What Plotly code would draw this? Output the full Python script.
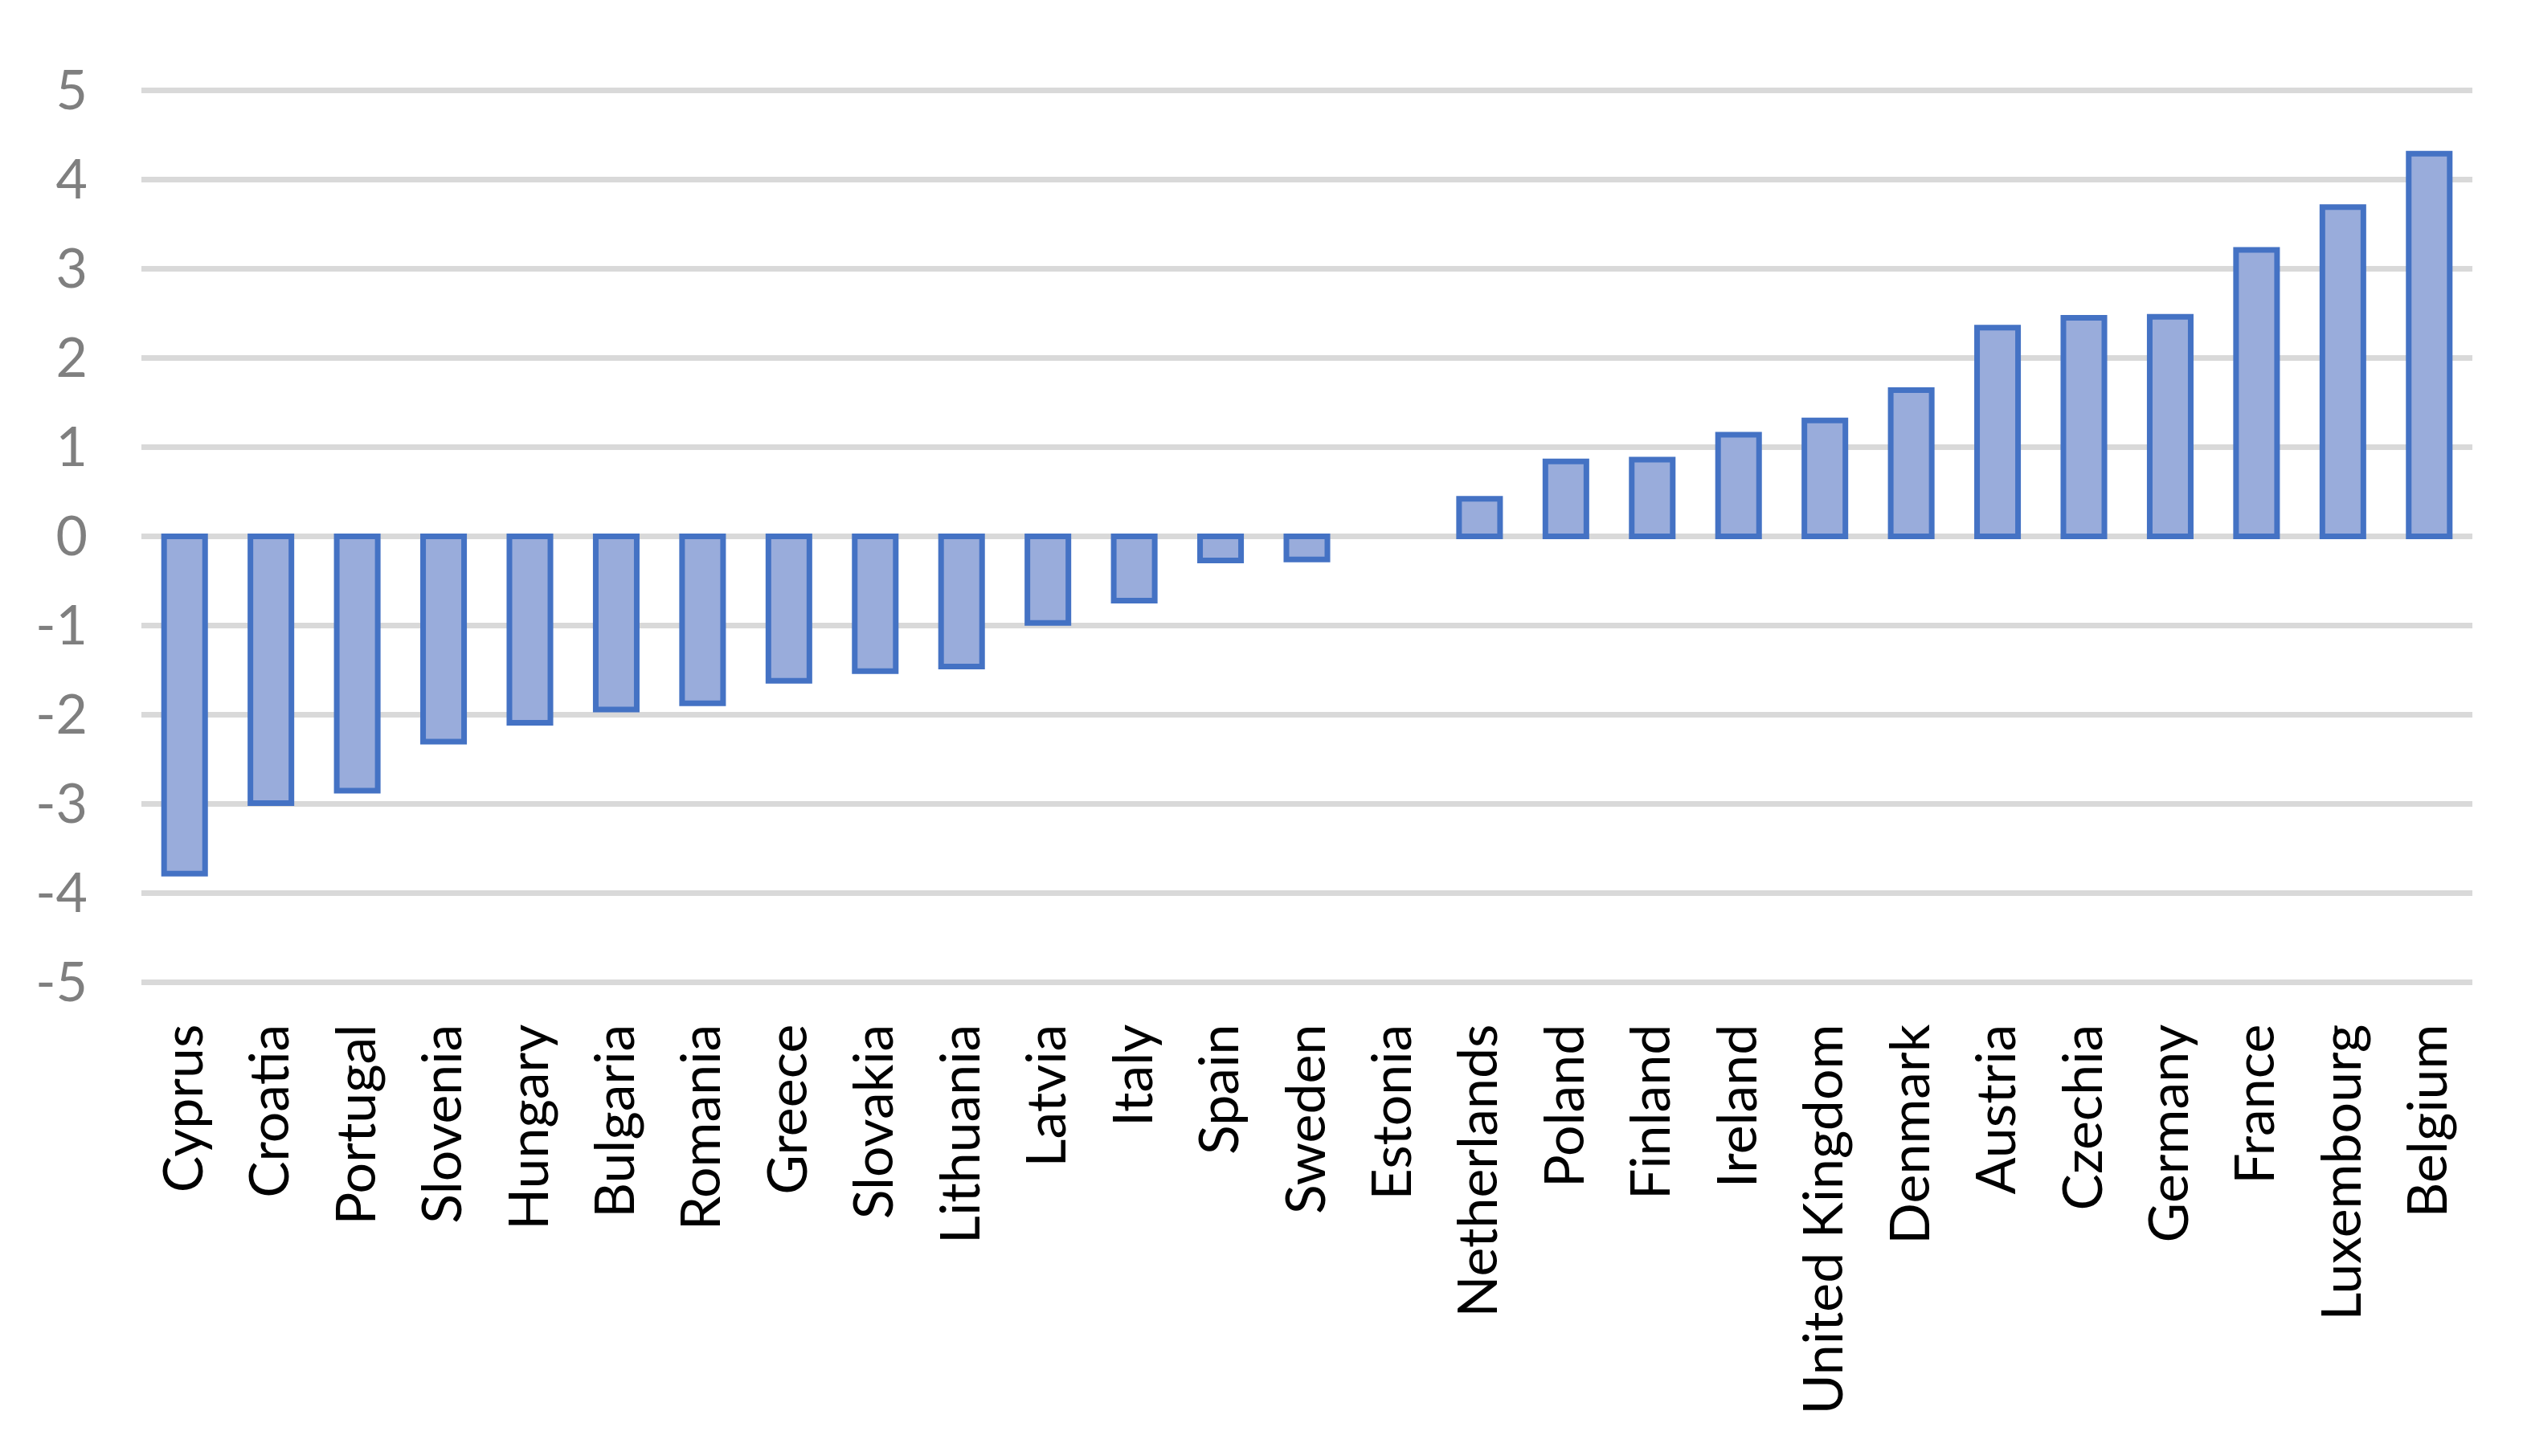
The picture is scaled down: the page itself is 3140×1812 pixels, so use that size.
import plotly.graph_objects as go

countries = ["Cyprus", "Croatia", "Portugal", "Slovenia", "Hungary", "Bulgaria", "Romania",
             "Greece", "Slovakia", "Lithuania", "Latvia", "Italy", "Spain", "Sweden", "Estonia",
             "Netherlands", "Poland", "Finland", "Ireland", "United Kingdom", "Denmark",
             "Austria", "Czechia", "Germany", "France", "Luxembourg", "Belgium"]
values = [-3.78, -2.99, -2.85, -2.30, -2.09, -1.94, -1.87, -1.62, -1.51, -1.46, -0.97,
          -0.72, -0.27, -0.26, 0.0, 0.42, 0.84, 0.86, 1.14, 1.30, 1.64, 2.34, 2.45, 2.46,
          3.21, 3.69, 4.29]
y_ticks = [-5, -4, -3, -2, -1, 0, 1, 2, 3, 4, 5]
y_tick_text = ["-5", "-4", "-3", "-2", "-1", "0", "1", "2", "3", "4", "5"]

line_widths = [0 if v == 0 else 7 for v in values]

fig = go.Figure(go.Bar(
    x=countries, y=values, width=0.475,
    marker=dict(color="#99acdb", line=dict(color="#4472C4", width=line_widths)),
))

fig.update_layout(
    width=3140, height=1812,
    margin=dict(l=168, r=71, t=101, b=594),
    paper_bgcolor="white", plot_bgcolor="white",
    showlegend=False,
    font=dict(family="Lato"),
)
fig.update_xaxes(
    tickangle=-90, tickfont=dict(size=68, color="black", family="Lato"),
    showgrid=False, showline=False, ticks="", ticklabelstandoff=34,
)
fig.update_yaxes(
    range=[-5.03, 5.03], tickvals=y_ticks, ticktext=y_tick_text,
    tickfont=dict(size=68, color="#7f7f7f", family="Lato"),
    showgrid=True, gridcolor="#d9d9d9", gridwidth=7,
    zeroline=True, zerolinecolor="#d9d9d9", zerolinewidth=7,
    showline=False, ticks="", ticklabelstandoff=66,
)

fig.write_html("out.html")
